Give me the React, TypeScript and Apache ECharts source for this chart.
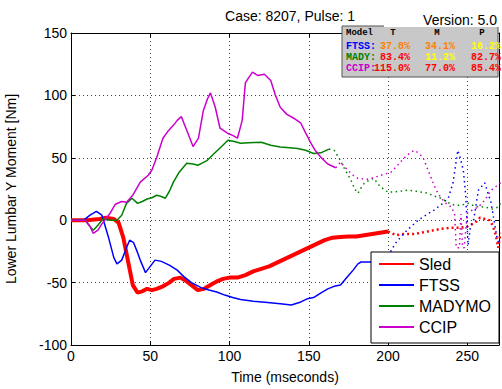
import React, { useEffect, useRef } from "react";
import * as echarts from "echarts";

// ---- Data ----
const sledSolidT = [0, 10, 18, 22, 27, 30, 33, 36, 39, 42, 45, 48, 51, 54, 58, 62, 65, 69, 73, 77, 80, 84, 88, 92, 96, 100, 105, 110, 115, 120, 125, 130, 135, 140, 145, 150, 155, 160, 165, 170, 175, 180, 185, 190, 195, 200];
const sledSolidV = [0, 0, 1, 2, 1, -2, -14, -33, -52, -58, -57, -55, -56, -55, -53, -50, -47, -46, -49, -53, -56, -55, -52, -49, -47, -46, -46, -44, -41, -39, -37, -34, -31, -28, -25, -22, -19, -16, -14, -13.5, -13, -13, -12, -11, -10, -9];
const sledDotT = [200, 205, 210, 217, 225, 233, 240, 246, 250, 255, 258, 261, 264, 266, 268, 269.5, 271];
const sledDotV = [-9, -12, -11, -11, -9, -7, -6, -6, -5, -2, 2, 1, 0, -4, -12, -22, -10];

const ftssSolidT = [0, 8, 12, 16, 19.5, 23.5, 27, 29, 32, 35, 37, 39.5, 42, 44, 47, 50, 53, 57, 62, 67, 71, 76, 82, 87, 92, 97, 102, 107, 115, 124, 132, 139, 145, 149, 153, 158, 162, 166, 170, 174, 178, 181, 183, 189, 195, 200];
const ftssSolidV = [0, 0, 4, 7, 4, -13, -30, -35, -32, -22, -16, -18, -26, -33, -42, -37, -32, -33, -36, -40, -45, -50, -54, -56, -57.5, -60, -62, -63.5, -65, -66, -67, -68, -65.5, -63, -62, -58, -55, -53, -52, -46, -40, -35, -33.5, -33.5, -33.5, -33];
const ftssDotT = [200, 202, 205, 208, 212, 219, 225, 229, 234, 238, 241, 244, 245.5, 247.5, 249, 250.5, 252, 254, 257, 261, 265, 269, 271];
const ftssDotV = [-33, -24, -18, -13.5, -8, 0, 5, 8, 13, 17.6, 30, 56, 50, 40, 20, -20, -5, 0, 24, 30, 14, -16, -20];

const madySolidT = [0, 9, 12, 14, 17, 20, 25, 29, 32, 35, 38.5, 42, 45, 48, 51, 54, 57, 59.5, 62, 64.6, 68, 73, 77, 80, 83, 86, 90, 95, 99, 103, 107, 112, 120, 126, 132, 138, 143, 148, 153, 157.6, 162.7];
const madySolidV = [0, 0, -5, -8, -4, 1, 0, 0, 4, 13.5, 17.6, 13.5, 15, 17, 18, 20, 19, 17.6, 23, 30.5, 38, 45.7, 45, 44, 46, 48, 53, 59, 64, 63, 61.6, 62, 62.5, 60, 58.6, 58, 57.5, 56, 53.5, 54, 57];
const madyDotT = [162.7, 166, 169, 172, 176.6, 179, 181, 183, 185, 188, 191, 195, 200, 206, 212.6, 219, 225, 230, 233.5, 238, 242, 246, 250.5, 255, 261, 266, 269.6, 271];
const madyDotV = [57, 56, 50, 42.5, 32, 25, 21.6, 26, 29.6, 32, 33.6, 27, 22.4, 23, 24, 23, 21.6, 19, 17.6, 14, 12, 12, 13.6, 11, 10.6, 9, 10.6, 14];

const ccipSolidT = [0, 9, 12, 14, 17, 20, 24.7, 28, 32, 35, 39, 43.7, 48.7, 51, 54, 58, 61, 64.6, 67, 69.6, 73, 77, 80.4, 83.5, 86, 88, 91, 94, 98.7, 102, 105, 108, 110, 112, 114.5, 117.7, 122, 126, 129, 132, 136, 140.5, 145, 148, 151, 154, 157.6, 162, 167];
const ccipSolidV = [0, 0, -5, -10.5, -8, -2, 5.6, 12.8, 15, 14.4, 20, 30.5, 36, 40, 50, 65.7, 71, 76, 80, 83, 72, 59, 65.7, 88, 97, 102, 90.5, 73.7, 69.7, 68, 65.7, 80, 110, 114, 118.6, 116, 117, 112, 100, 90.5, 85, 81.7, 77.7, 70, 62.5, 56, 50.5, 45, 42];
const ccipDotT = [167, 170, 174.6, 178, 181, 187, 191, 195.6, 202, 206, 210, 213, 216.5, 219, 222, 227, 230, 233.5, 237, 240, 242, 243, 245, 246, 247, 248, 250, 253, 257, 261, 265, 271];
const ccipDotV = [42, 46.5, 40, 36, 33.6, 32.8, 34, 36, 38.5, 44, 49.7, 53, 56, 54, 50.5, 34.5, 25, 17.6, 13, 10.6, 5, -22, -22, 5, -22, -22, 5.6, 8, 10.6, 16, 24, 30];

const legendNames = ["Sled", "FTSS", "MADYMO", "CCIP"];
const xTicks = { min: 0, max: 270, interval: 50 };
const yTicks = { min: -100, max: 150, interval: 50 };

const tableHeader = ["Model", "T", "M", "P"];
const tableModels = ["FTSS:", "MADY:", "CCIP:"];
const tableValues = [
  ["37.8%", "34.1%", "16.2%"],
  ["83.4%", "11.2%", "82.7%"],
  ["115.0%", "77.0%", "85.4%"],
];
const tableValueColors = [
  ["#ff8000", "#ff8000", "#ffff00"],
  ["#ff0000", "#ffff00", "#ff0000"],
  ["#ff0000", "#ff0000", "#ff0000"],
];

const RED = "#ff0000";
const BLUE = "#0000ff";
const GREEN = "#008000";
const MAG = "#cc00cc";
const modelColors = [BLUE, GREEN, MAG];

const zip = (t: number[], v: number[]) => t.map((x, i) => [x, v[i]]);

export default function App() {
  const ref = useRef<HTMLDivElement>(null);
  useEffect(() => {
    if (!ref.current) return;
    const chart = echarts.init(ref.current, null, { renderer: "svg" });
    const font = "Liberation Sans, Arial, sans-serif";
    const mono = "Liberation Mono, Courier New, monospace";

    const solid = (name: string, t: number[], v: number[], color: string, w: number) => ({
      name, type: "line", data: zip(t, v), symbol: "none", smooth: false,
      lineStyle: { color, width: w }, itemStyle: { color }, z: 3,
    });
    const dotted = (name: string, t: number[], v: number[], color: string, w: number, dash: number[]) => ({
      name, type: "line", data: zip(t, v), symbol: "none", smooth: false,
      lineStyle: { color, width: w, type: dash }, itemStyle: { color }, z: 2,
    });

    const colX = [346, 380, 425, 471];
    const headX = [346, 393, 437, 482];
    const rowY = [46, 57, 68];
    const graphics: any[] = [
      { type: "rect", shape: { x: 342, y: 26, width: 156, height: 51 }, style: { fill: "#c8c8c8", stroke: "#555", lineWidth: 1 }, z: 10 },
    ];
    tableHeader.forEach((h, i) => {
      graphics.push({ type: "text", x: headX[i], y: 33, z: 11, style: { text: h, font: `bold 9px ${mono}`, fill: "#000", textVerticalAlign: "middle", textAlign: i === 0 ? "left" : "center" } });
    });
    tableModels.forEach((m, r) => {
      graphics.push({ type: "text", x: colX[0], y: rowY[r], z: 11, style: { text: m, font: `bold 10px ${mono}`, fill: modelColors[r], textVerticalAlign: "middle" } });
      tableValues[r].forEach((v, c) => {
        graphics.push({ type: "text", x: colX[c + 1] + (v.length > 5 ? -6 : 0), y: rowY[r], z: 11, style: { text: v, font: `bold 10px ${mono}`, fill: tableValueColors[r][c], textVerticalAlign: "middle" } });
      });
    });
    graphics.push({ type: "rect", shape: { x: 384, y: 12, width: 116, height: 15 }, style: { fill: "#fff" }, z: 12 });
    graphics.push({ type: "text", x: 497, y: 20, z: 13, style: { text: "Version: 5.0", font: `14px ${font}`, fill: "#000", textAlign: "right", textVerticalAlign: "middle" } });

    chart.setOption({
      animation: false,
      backgroundColor: "#fff",
      title: { text: "Case: 8207, Pulse: 1", left: 285, top: 4, textAlign: "center", textStyle: { fontFamily: font, fontSize: 14, fontWeight: "normal", color: "#000" } },
      grid: { left: 71, top: 33, right: 3, bottom: 44, show: false, containLabel: false, outerBoundsMode: "none" },
      legend: {
        data: legendNames, orient: "vertical", left: 371, top: 252,
        padding: [4, 8, 8, 7], itemGap: 5, itemWidth: 35, itemHeight: 14,
        backgroundColor: "#fff", borderColor: "#000", borderWidth: 1,
        itemStyle: { opacity: 0 },
        textStyle: { fontFamily: font, fontSize: 16, color: "#000", lineHeight: 16 },
        z: 20,
      },
      xAxis: [
        {
          type: "value", min: xTicks.min, max: xTicks.max, interval: xTicks.interval,
          name: "Time (mseconds)", nameLocation: "middle", nameGap: 25,
          nameTextStyle: { fontFamily: font, fontSize: 14, color: "#000" },
          axisLine: { show: true, onZero: false, lineStyle: { color: "#000", width: 1 } },
          axisTick: { show: true, inside: true, length: 4, lineStyle: { color: "#000" } },
          axisLabel: { fontFamily: font, fontSize: 14, color: "#000", margin: 4, showMaxLabel: false },
          splitLine: { show: true, lineStyle: { color: "#444", type: [1, 3], width: 1 } },
        },
        {
          type: "value", position: "top", min: xTicks.min, max: xTicks.max, interval: xTicks.interval,
          axisLine: { show: true, onZero: false, lineStyle: { color: "#000", width: 1 } },
          axisTick: { show: true, inside: true, length: 4, lineStyle: { color: "#000" } },
          axisLabel: { show: false }, splitLine: { show: false },
        },
      ],
      yAxis: [
        {
          type: "value", min: yTicks.min, max: yTicks.max, interval: yTicks.interval,
          name: "Lower Lumbar Y Moment [Nm]", nameLocation: "middle", nameGap: 53,
          nameTextStyle: { fontFamily: font, fontSize: 14, color: "#000" },
          axisLine: { show: true, onZero: false, lineStyle: { color: "#000", width: 1 } },
          axisTick: { show: true, inside: true, length: 4, lineStyle: { color: "#000" } },
          axisLabel: { fontFamily: font, fontSize: 14, color: "#000", margin: 4 },
          splitLine: { show: true, lineStyle: { color: "#444", type: [1, 3], width: 1 } },
        },
        {
          type: "value", position: "right", min: yTicks.min, max: yTicks.max, interval: yTicks.interval,
          axisLine: { show: true, onZero: false, lineStyle: { color: "#000", width: 1 } },
          axisTick: { show: true, inside: true, length: 4, lineStyle: { color: "#000" } },
          axisLabel: { show: false }, splitLine: { show: false },
        },
      ],
      series: [
        dotted("Sled dotted", sledDotT, sledDotV, RED, 2.5, [2, 3]),
        dotted("FTSS dotted", ftssDotT, ftssDotV, BLUE, 1.5, [1.5, 3.5]),
        dotted("MADYMO dotted", madyDotT, madyDotV, GREEN, 1.5, [1.5, 3.5]),
        dotted("CCIP dotted", ccipDotT, ccipDotV, MAG, 1.5, [1.5, 3.5]),
        solid("Sled", sledSolidT, sledSolidV, RED, 4),
        solid("FTSS", ftssSolidT, ftssSolidV, BLUE, 1.5),
        solid("MADYMO", madySolidT, madySolidV, GREEN, 1.5),
        solid("CCIP", ccipSolidT, ccipSolidV, MAG, 1.5),
      ],
      graphic: graphics,
    });
    return () => chart.dispose();
  }, []);
  return <div ref={ref} style={{ position: "fixed", left: 0, top: 0, width: 502, height: 389 }} />;
}
